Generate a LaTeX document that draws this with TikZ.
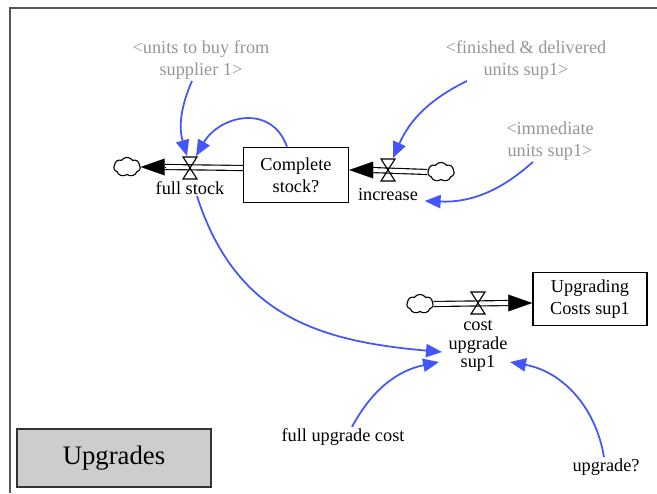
\documentclass[tikz,border=0pt]{standalone}
\usepackage{fontspec}
\setmainfont{Liberation Serif}
\usepackage{tikz}
\usetikzlibrary{arrows.meta, positioning, calc, shapes.symbols}
\definecolor{infblue}{RGB}{66,86,250}
\definecolor{ghost}{RGB}{150,150,150}
\definecolor{framegray}{RGB}{85,85,85}
\definecolor{viewgray}{RGB}{205,205,205}
\tikzset{
  stockbox/.style={rectangle, draw=black, fill=white, align=center,
    line width=1.1pt, inner sep=2pt},
  viewbox/.style={rectangle, draw=black!80, fill=viewgray, line width=1.3pt,
    minimum width=4.85cm, minimum height=1.45cm, font=\fontsize{19}{21}\selectfont},
  cloudy/.style={cloud, cloud puffs=7, cloud puff arc=110, aspect=1.4, draw=black,
    line width=0.8pt, minimum width=0.66cm, minimum height=0.48cm, inner sep=0pt},
  lbl/.style={align=center, inner sep=1pt},
  shadow/.style={align=center, text=ghost, inner sep=1pt},
  pipe/.style={draw=black, double=white, double distance=2.8pt, line width=0.8pt},
  flowtip/.style={-{Triangle[length=0.6cm, width=0.42cm]}, line width=0.1pt},
  valve/.style={draw=black, line width=0.8pt},
  infl/.style={-{Triangle[length=0.4cm, width=0.33cm]}, draw=infblue, line width=1.25pt}
}
\begin{document}
\begin{tikzpicture}[x=0.025cm, y=0.025cm, font=\fontsize{13}{15.5}\selectfont]
  \useasboundingbox (0,0) rectangle (657,493);
  % View frame
  \draw[framegray, line width=1.4pt] (10,0) -- (10,485) -- (657,485);

  % Stocks
  \node[stockbox, minimum width=2.62cm, minimum height=1.38cm] (complete) at (296,318) {Complete\\stock?};
  \node[stockbox, minimum width=2.85cm, minimum height=1.32cm] (upcost) at (590,194) {Upgrading\\Costs sup1};

  % Clouds and valves
  \node[cloudy] (cloudL) at (127,326) {};
  \node[cloudy] (cloudR) at (441,321) {};
  \node[cloudy] (cloudU) at (420,189) {};
  \coordinate (vfull) at (190,325);
  \coordinate (vinc) at (388,323);
  \coordinate (vcost) at (478,190);

  % Flows
  \draw[pipe] (complete.west |- vfull) -- ($(cloudL.east)+(24,0)$);
  \draw[flowtip] ($(cloudL.east)+(24,0)$) -- (cloudL.east);
  \draw[pipe] (cloudR.west) -- ($(complete.east |- vinc)+(22,0)$);
  \draw[flowtip] ($(complete.east |- vinc)+(22,0)$) -- (complete.east |- vinc);
  \draw[pipe] (cloudU.east) -- ($(upcost.west |- vcost)+(-21,0)$);
  \draw[flowtip] ($(upcost.west |- vcost)+(-21,0)$) -- (upcost.west |- vcost);
  \draw[valve] ($(vfull)+(-7,11)$) -- ($(vfull)+(7,11)$) -- ($(vfull)+(-7,-11)$) -- ($(vfull)+(7,-11)$) -- cycle;
  \draw[valve] ($(vinc)+(-7,11)$) -- ($(vinc)+(7,11)$) -- ($(vinc)+(-7,-11)$) -- ($(vinc)+(7,-11)$) -- cycle;
  \draw[valve] ($(vcost)+(-7,11)$) -- ($(vcost)+(7,11)$) -- ($(vcost)+(-7,-11)$) -- ($(vcost)+(7,-11)$) -- cycle;

  % Labels
  \node[lbl] (lfullstock) at (190,305) {full stock};
  \node[lbl] (lincrease) at (388,298) {increase};
  \node[lbl, font=\fontsize{13}{13}\selectfont] (lcostup) at (478,147) {cost\\upgrade\\sup1};
  \node[shadow] (lunits) at (201,433) {<units to buy from\\supplier 1>};
  \node[shadow] (lfinished) at (526,433) {<finished \& delivered\\units sup1>};
  \node[shadow] (limmediate) at (550,352) {<immediate\\units sup1>};
  \node[lbl] (lfullcost) at (343,56) {full upgrade cost};
  \node[lbl] (lupgradeq) at (606,26) {upgrade?};
  \node[viewbox] (upgrades) at (114,35) {Upgrades};

  % Information links
  \draw[infl] ($(lunits.south)+(-9,0)$) to[bend right=20] ($(vfull)+(-3,12)$);
  \draw[infl] ($(complete.north)+(-9,0)$) to[out=110, in=60, looseness=1.3] ($(vfull)+(6,12)$);
  \draw[infl] ($(lfinished.south)+(-59,0)$) to[bend right=20] ($(vinc)+(5,12)$);
  \draw[infl] ($(limmediate.south)+(-17,0)$) to[bend left=22] ($(lincrease.east)+(5,-6)$);
  \draw[infl] ($(lfullstock.south)+(7,0)$) to[out=-72, in=175, looseness=1.1] ($(lcostup)+(-36,-6)$);
  \draw[infl] ($(lfullcost.north)+(9,0)$) to[bend left=25] ($(lcostup)+(-39,-16)$);
  \draw[infl] ($(lupgradeq.north)+(-2,0)$) to[bend right=35] ($(lcostup)+(32,-16)$);
\end{tikzpicture}
\end{document}
